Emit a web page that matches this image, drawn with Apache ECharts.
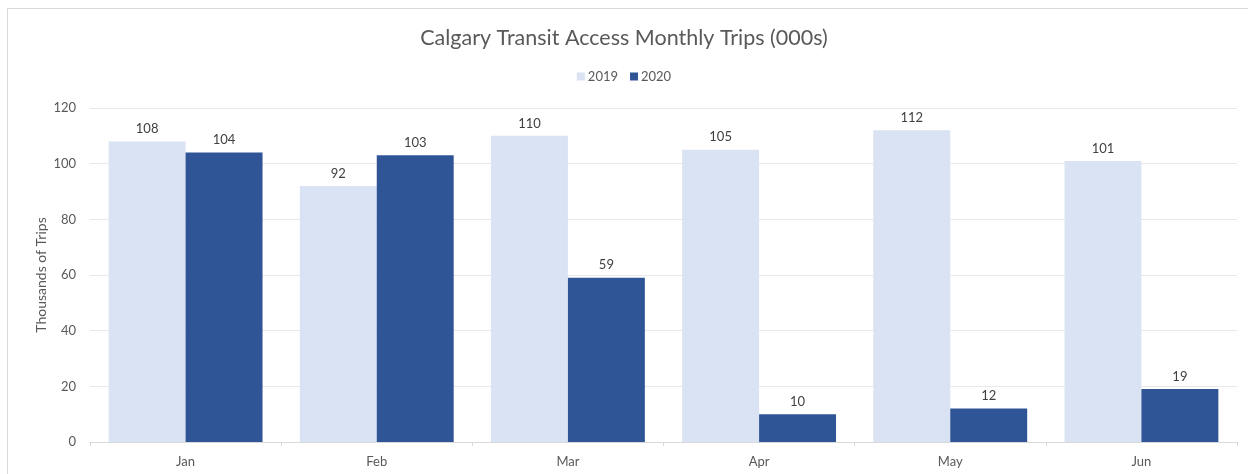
<!DOCTYPE html>
<html>
<head>
<meta charset="utf-8">
<script src="https://cdn.jsdelivr.net/npm/echarts@6/dist/echarts.min.js"></script>
<style>
html,body{margin:0;padding:0;background:#fff;}
#wrap{position:relative;width:1248px;height:474px;overflow:hidden;}
#frame{position:absolute;left:7px;top:8px;width:1260px;height:480px;border:1px solid #d9d9d9;box-sizing:border-box;}
#chart{position:absolute;left:0;top:0;width:1248px;height:474px;}
</style>
</head>
<body>
<div id="wrap"><div id="frame"></div><div id="chart"></div></div>
<script>
const categories = ['Jan', 'Feb', 'Mar', 'Apr', 'May', 'Jun'];
const trips2019 = [108, 92, 110, 105, 112, 101];
const trips2020 = [104, 103, 59, 10, 12, 19];
const yTicks = [0, 20, 40, 60, 80, 100, 120];

const FONT = 'Lato, "Open Sans", sans-serif';
const chart = echarts.init(document.getElementById('chart'), null, {renderer: 'canvas'});
const labelStyle = {show: true, position: 'top', distance: 6, color: '#404040', fontSize: 13, fontFamily: FONT};
chart.setOption({
  animation: false,
  title: {
    text: 'Calgary Transit Access Monthly Trips (000s)',
    left: 'center', top: 22,
    textStyle: {fontFamily: FONT, fontSize: 21.5, fontWeight: 'normal', color: '#595959'}
  },
  legend: {
    top: 65, left: 'center',
    itemWidth: 8, itemHeight: 8, itemGap: 12,
    icon: 'rect',
    textStyle: {fontFamily: FONT, fontSize: 13, color: '#595959', padding: [0, 0, 0, -2]},
    data: ['2019', '2020']
  },
  grid: {left: 90, right: 11, top: 108, bottom: 32, containLabel: false},
  xAxis: {
    type: 'category',
    data: categories,
    axisLine: {lineStyle: {color: '#d9d9d9'}},
    axisTick: {show: true, length: 4, lineStyle: {color: '#d9d9d9'}},
    axisLabel: {color: '#595959', fontSize: 13, fontFamily: FONT, margin: 13}
  },
  yAxis: {
    type: 'value',
    min: yTicks[0], max: yTicks[yTicks.length - 1], interval: 20,
    name: 'Thousands of Trips',
    nameLocation: 'middle', nameGap: 42, nameRotate: 90,
    nameMoveOverlap: false,
    nameTextStyle: {color: '#595959', fontSize: 14, fontFamily: FONT},
    axisLine: {show: false},
    axisTick: {show: false},
    axisLabel: {color: '#595959', fontSize: 13, fontFamily: FONT, margin: 14},
    splitLine: {lineStyle: {color: '#e8e8e8'}}
  },
  series: [
    {name: '2019', type: 'bar', data: trips2019, barGap: '0%', barCategoryGap: '19.5%',
     itemStyle: {color: '#dae3f3'}, label: labelStyle},
    {name: '2020', type: 'bar', data: trips2020, barGap: '0%', barCategoryGap: '19.5%',
     itemStyle: {color: '#2f5597'}, label: labelStyle}
  ]
});
</script>
</body>
</html>
